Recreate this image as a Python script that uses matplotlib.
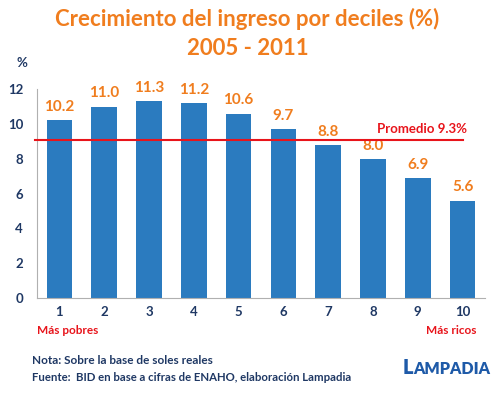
import matplotlib

matplotlib.use("Agg")
import matplotlib.pyplot as plt

deciles = [1, 2, 3, 4, 5, 6, 7, 8, 9, 10]
crecimiento = [10.2, 11.0, 11.3, 11.2, 10.6, 9.7, 8.8, 8.0, 6.9, 5.6]
promedio = 9.3
linea_promedio = 9.07  # where the red line sits in the source picture
y_ticks = [0, 2, 4, 6, 8, 10, 12]

plt.rcParams["font.family"] = ["Lato", "DejaVu Sans"]

orange = "#F07D1E"
navy = "#1F3864"
red = "#E8141B"

fig = plt.figure(figsize=(4.95, 3.94), dpi=100)
ax = fig.add_axes([0.0747, 0.2437, 0.905, 0.530])

ax.bar(deciles, crecimiento, width=0.57, color="#2B7BBF", zorder=2)
for x, v in zip(deciles, crecimiento):
    ax.text(x, v + 0.35, f"{v:.1f}", ha="center", va="bottom",
            color=orange, fontsize=11, fontweight="bold")

ax.plot([0.45, 10.0], [linea_promedio, linea_promedio], color=red, lw=1.5,
        zorder=3, clip_on=False)
ax.text(9.1, linea_promedio + 0.3, f"Promedio {promedio}%", ha="center",
        va="bottom", color=red, fontsize=9.5, fontweight="bold")

ax.set_xlim(0.5, 10.5)
ax.set_ylim(0, 12)
ax.set_xticks(deciles)
ax.set_yticks(y_ticks)
ax.tick_params(length=0, labelsize=9.5, labelcolor=navy, pad=6)
for lab in ax.get_xticklabels() + ax.get_yticklabels():
    lab.set_fontweight("bold")
ax.tick_params(axis="y", pad=10)

for side in ["top", "right"]:
    ax.spines[side].set_visible(False)
ax.spines["left"].set_color("#B0B0B0")
ax.spines["bottom"].set_color("#B0B0B0")

fig.text(0.5, 0.952, "Crecimiento del ingreso por deciles (%)", ha="center",
         va="center", color=orange, fontsize=16, fontweight="bold")
fig.text(0.5, 0.878, "2005 - 2011", ha="center", va="center",
         color=orange, fontsize=16, fontweight="bold")
fig.text(0.044, 0.84, "%", ha="center", va="center", color=navy,
         fontsize=9.5, fontweight="bold")

fig.text(0.075, 0.16, "Más pobres", ha="left", va="center", color=red,
         fontsize=8.5, fontweight="bold")
fig.text(0.962, 0.16, "Más ricos", ha="right", va="center", color=red,
         fontsize=8.5, fontweight="bold")

fig.text(0.064, 0.086, "Nota: Sobre la base de soles reales", ha="left",
         va="center", color=navy, fontsize=8.5, fontweight="bold")
fig.text(0.064, 0.042, "Fuente:  BID en base a cifras de ENAHO, elaboración Lampadia",
         ha="left", va="center", color=navy, fontsize=8.2, fontweight="bold")

# small-caps style logo: big L + smaller rest
rest = fig.text(0.99, 0.052, "AMPADIA", ha="right", va="baseline",
                color="#1E5AA8", fontsize=11.5, fontweight="heavy")
fig.canvas.draw()
bb = rest.get_window_extent().transformed(fig.transFigure.inverted())
fig.text(bb.x0, 0.052, "L", ha="right", va="baseline", color="#1E5AA8",
         fontsize=14.5, fontweight="heavy")

fig.savefig("out.png", dpi=100)
